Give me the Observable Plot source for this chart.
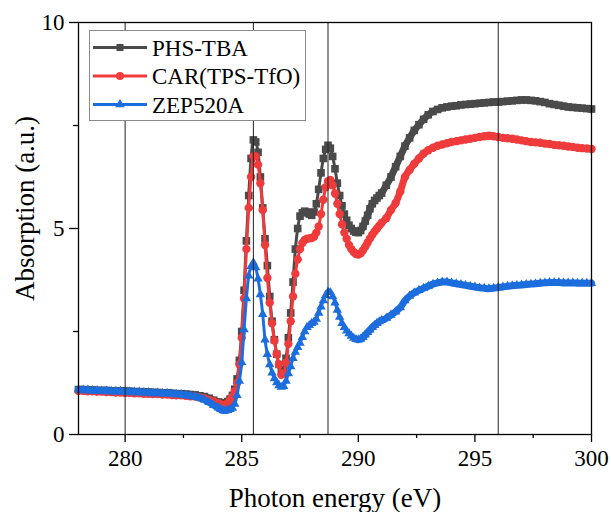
<!DOCTYPE html>
<html>
<head>
<meta charset="utf-8">
<script src="https://cdn.jsdelivr.net/npm/d3@7"></script>
<script src="https://cdn.jsdelivr.net/npm/@observablehq/plot@0.6"></script>
<style>
  html, body { margin: 0; padding: 0; background: #fff; }
  #chart { width: 611px; height: 512px; }
</style>
</head>
<body>
<div id="chart"></div>
<script>
// Photon energy (eV) sample positions
const energy = [
  278,278.2,278.4,278.6,278.8,279,279.2,279.4,279.6,279.8,280,280.2,280.4,280.6,280.8,281,281.2,281.4,281.6,281.8,282,282.2,282.4,282.6,282.8,283,283.2,283.4,283.6,283.8,284,
  284.1,284.2,284.3,284.4,284.5,284.6,284.7,284.8,284.9,285,285.1,285.2,285.3,285.4,285.5,285.6,285.7,285.8,285.9,286,286.1,286.2,286.3,286.4,286.5,286.6,286.7,286.8,286.9,287,287.1,287.2,287.3,287.4,287.5,287.6,287.7,287.8,287.9,288,288.1,288.2,288.3,288.4,288.5,288.6,288.7,288.8,288.9,289,289.1,289.2,289.3,289.4,289.5,289.6,289.7,289.8,289.9,290,290.1,290.2,290.3,290.4,290.5,290.6,290.7,290.8,290.9,291,
  291.2,291.4,291.6,291.8,292,292.2,292.4,292.6,292.8,293,293.2,293.4,293.6,293.8,294,294.2,294.4,294.6,294.8,295,295.2,295.4,295.6,295.8,296,296.2,296.4,296.6,296.8,297,297.2,297.4,297.6,297.8,298,298.2,298.4,298.6,298.8,299,299.2,299.4,299.6,299.8,300
];

const phsTba = [
  1.09,1.09,1.08,1.08,1.07,1.07,1.07,1.06,1.06,1.06,1.05,1.05,1.04,1.04,1.03,1.03,1.02,1.02,1.01,1.01,1.00,0.99,0.99,0.98,0.97,0.96,0.94,0.92,0.88,0.83,0.79,
  0.77,0.76,0.77,0.80,0.86,0.95,1.10,1.35,1.80,2.50,3.50,4.70,5.80,6.70,7.15,7.10,6.85,6.25,5.50,4.75,4.10,3.35,2.75,2.30,1.95,1.70,1.55,1.60,1.85,2.35,2.95,3.70,4.50,5.00,5.30,5.38,5.42,5.40,5.35,5.32,5.40,5.60,5.95,6.35,6.70,6.92,7.02,6.95,6.75,6.45,6.10,5.80,5.55,5.35,5.20,5.08,5.00,4.94,4.91,4.90,4.95,5.05,5.18,5.32,5.48,5.60,5.68,5.74,5.80,5.86,
  6.05,6.25,6.50,6.75,7.00,7.20,7.38,7.52,7.65,7.76,7.84,7.89,7.93,7.95,7.97,7.98,8.00,8.01,8.02,8.03,8.04,8.05,8.06,8.07,8.07,8.08,8.09,8.10,8.11,8.12,8.12,8.11,8.10,8.08,8.06,8.03,8.01,7.99,7.97,7.95,7.94,7.93,7.92,7.91,7.90
];

const carTps = [
  1.06,1.06,1.05,1.05,1.04,1.04,1.03,1.03,1.02,1.02,1.01,1.01,1.00,1.00,0.99,0.99,0.98,0.98,0.97,0.97,0.96,0.95,0.95,0.94,0.93,0.92,0.90,0.88,0.84,0.80,0.76,
  0.73,0.71,0.72,0.76,0.83,0.92,1.05,1.25,1.70,2.35,3.30,4.50,5.50,6.25,6.75,6.75,6.55,6.10,5.45,4.60,3.80,3.20,2.70,2.28,1.95,1.70,1.45,1.48,1.75,2.20,2.75,3.35,3.90,4.25,4.50,4.65,4.72,4.75,4.76,4.77,4.80,4.90,5.05,5.35,5.70,6.00,6.15,6.18,6.05,5.85,5.60,5.35,5.10,4.90,4.75,4.60,4.50,4.43,4.38,4.37,4.40,4.47,4.56,4.66,4.76,4.85,4.93,5.00,5.07,5.14,
  5.25,5.45,5.62,5.90,6.25,6.42,6.57,6.70,6.82,6.90,6.96,7.01,7.04,7.07,7.10,7.12,7.14,7.16,7.18,7.20,7.22,7.24,7.25,7.24,7.22,7.20,7.19,7.18,7.16,7.14,7.12,7.10,7.09,7.08,7.06,7.05,7.03,7.02,7.01,6.99,6.98,6.96,6.95,6.94,6.93
];

const zep520a = [
  1.09,1.08,1.08,1.07,1.07,1.06,1.06,1.05,1.05,1.05,1.04,1.04,1.03,1.03,1.02,1.02,1.01,1.01,1.00,1.00,0.99,0.98,0.97,0.96,0.94,0.92,0.89,0.84,0.78,0.71,0.65,
  0.61,0.58,0.58,0.59,0.61,0.64,0.74,0.95,1.30,1.75,2.55,3.30,3.85,4.08,4.17,4.05,3.78,3.40,2.92,2.30,1.95,1.70,1.50,1.36,1.26,1.19,1.15,1.17,1.30,1.48,1.65,1.85,2.00,2.12,2.22,2.36,2.50,2.60,2.65,2.70,2.73,2.80,2.95,3.10,3.25,3.38,3.46,3.45,3.35,3.20,3.02,2.85,2.70,2.60,2.52,2.45,2.39,2.34,2.31,2.30,2.32,2.36,2.42,2.48,2.54,2.60,2.65,2.70,2.74,2.77,
  2.82,2.90,2.98,3.08,3.25,3.36,3.44,3.50,3.55,3.60,3.65,3.68,3.70,3.70,3.68,3.66,3.64,3.62,3.60,3.58,3.56,3.55,3.54,3.55,3.57,3.58,3.60,3.61,3.62,3.63,3.64,3.65,3.66,3.67,3.68,3.69,3.69,3.69,3.68,3.68,3.68,3.67,3.67,3.67,3.67
];

const seriesNames = ["PHS-TBA", "CAR(TPS-TfO)", "ZEP520A"];
const seriesValues = [phsTba, carTps, zep520a];
const seriesColors = ["#4a4a4a", "#ef3b3b", "#1c6ddd"];
const seriesSymbols = ["square", "circle", "triangle"];

const xTicks = [280, 285, 290, 295, 300];
const xMinorTicks = [282.5, 287.5, 292.5, 297.5];
const yTicks = [0, 5, 10];
const yMinorTicks = [2.5, 7.5];
const refLines = [280, 285.5, 288.7, 296];
const xTitle = "Photon energy (eV)";
const yTitle = "Absorption (a.u.)";

const FONT = "'Liberation Serif', 'Times New Roman', serif";

const seriesData = seriesValues.map((vals, k) =>
  energy.map((e, i) => ({ e, v: vals[i], s: seriesNames[k] })).filter(d => d.v != null)
);

// Where the original markers overlap into a solid band (flat parts of the spectra)
const isDense = d => d.e <= 284.5 || d.e >= 290;
const bandGroup = d => (d.e < 287 ? "low" : "high");

const dataMarks = seriesData.flatMap((data, k) => [
  Plot.line(data.filter(isDense), { x: "e", y: "v", z: bandGroup, stroke: seriesColors[k], strokeWidth: 7, curve: "monotone-x" }),
  Plot.line(data, { x: "e", y: "v", stroke: seriesColors[k], strokeWidth: 3, curve: "monotone-x" }),
  Plot.dot(data, {
    x: "e", y: "v", symbol: () => seriesSymbols[k],
    r: seriesSymbols[k] === "triangle" ? 3.5 : (seriesSymbols[k] === "square" ? 4.3 : 4.2),
    fill: seriesColors[k], stroke: "none"
  })
]);

const chart = Plot.plot({
  width: 611,
  height: 512,
  marginLeft: 78,
  marginRight: 20,
  marginTop: 22,
  marginBottom: 78,
  style: { fontFamily: FONT, fontSize: "23px", color: "#000", background: "#fff" },
  x: { domain: [278, 300] },
  y: { domain: [0, 10] },
  symbol: { type: "identity" },
  marks: [
    ...dataMarks,
    Plot.ruleX(refLines, { stroke: "#222", strokeWidth: 1 }),
    Plot.frame({ stroke: "#000", strokeWidth: 1.3 }),
    Plot.axisX({ ticks: xTicks, tickSize: 8, tickPadding: 7, label: null, fontSize: 23, stroke: "#000", strokeWidth: 1.3 }),
    Plot.axisX({ ticks: xMinorTicks, tickSize: 4, text: null, label: null, stroke: "#000", strokeWidth: 1.3 }),
    Plot.axisY({ ticks: yTicks, tickSize: 9, tickPadding: 5, label: null, fontSize: 23, stroke: "#000", strokeWidth: 1.3 }),
    Plot.axisY({ ticks: yMinorTicks, tickSize: 5, text: null, label: null, stroke: "#000", strokeWidth: 1.3 }),
    Plot.text([xTitle], { frameAnchor: "bottom", text: d => d, dy: 64, fontSize: 27, lineAnchor: "middle", textAnchor: "middle", fill: "#000" }),
    Plot.text([yTitle], { frameAnchor: "left", text: d => d, rotate: -90, dx: -53, dy: -20, fontSize: 27, lineAnchor: "middle", textAnchor: "middle", fill: "#000" })
  ]
});

// Legend inside the plot (top-left)
const svg = d3.select(chart);
const lg = svg.append("g").attr("font-family", FONT).attr("font-size", 23).attr("text-anchor", "start");
lg.append("rect")
  .attr("x", 89.5).attr("y", 30.5).attr("width", 216).attr("height", 90)
  .attr("fill", "#fff").attr("stroke", "#8a8a8a").attr("stroke-width", 1);
const symbolTypes = { square: d3.symbolSquare, circle: d3.symbolCircle, triangle: d3.symbolTriangle };
const symbolSizes = { square: 50, circle: 52, triangle: 40 };
seriesNames.forEach((name, k) => {
  const yy = 47.5 + k * 28.5;
  lg.append("line").attr("x1", 93).attr("x2", 147).attr("y1", yy).attr("y2", yy)
    .attr("stroke", seriesColors[k]).attr("stroke-width", 3);
  lg.append("path")
    .attr("d", d3.symbol().type(symbolTypes[seriesSymbols[k]]).size(symbolSizes[seriesSymbols[k]])())
    .attr("transform", `translate(120,${yy})`)
    .attr("fill", seriesColors[k]);
  lg.append("text").attr("x", 152).attr("y", yy).attr("dy", "0.35em")
    .attr("text-anchor", "start").attr("fill", "#000").text(name);
});

document.getElementById("chart").appendChild(chart);
</script>
</body>
</html>
